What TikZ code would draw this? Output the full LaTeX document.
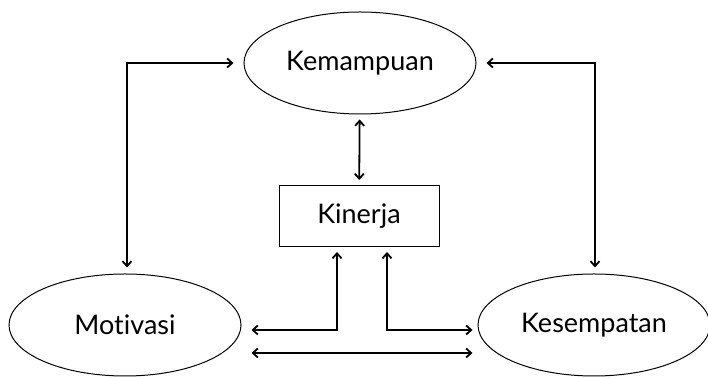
\documentclass[tikz,border=0pt]{standalone}
\usepackage{fontspec}
\setmainfont{Lato}[Ligatures={NoCommon,NoRequired,NoContextual}]
\usetikzlibrary{shapes.geometric,arrows.meta}

\begin{document}
\begin{tikzpicture}[x=0.5pt, y=-0.5pt,
	faktor/.style={ellipse, draw, line width=0.5pt, minimum width=116pt, minimum height=51pt, font=\fontsize{13.5}{16}\selectfont},
	hasil/.style={rectangle, draw, line width=0.5pt, minimum width=80pt, minimum height=30.5pt, font=\fontsize{13.5}{16}\selectfont},
	panah/.style={line width=0.9pt, {Straight Barb[length=2.5pt,width=4.5pt]}-{Straight Barb[length=2.5pt,width=4.5pt]}}]
	\useasboundingbox (0,0) rectangle (708,378);
	% Nodes:
	\node[faktor] (kemampuan) at (360, 63){Kemampuan};
	\node[hasil] (kinerja) at (359, 216){Kinerja};
	\node[faktor] (motivasi) at (125, 325){Motivasi};
	\node[faktor] (kesempatan) at (594, 325){Kesempatan};
	% Free ends of the bottom links:
	\coordinate (motkanan) at ([shift={(5pt,-2.5pt)}]motivasi.east);
	\coordinate (kesskiri) at ([shift={(-2.5pt,-2.5pt)}]kesempatan.west);
	\coordinate (motbawah) at ([shift={(5pt,-14pt)}]motivasi.east);
	\coordinate (kesbawah) at ([shift={(-2.5pt,-14pt)}]kesempatan.west);
	% Connectors:
	\draw[panah, shorten <=5pt, shorten >=3pt] (kemampuan.west) -| ([xshift=1pt]motivasi.north);
	\draw[panah, shorten <=5pt, shorten >=3pt] (kemampuan.east) -| ([xshift=0.5pt]kesempatan.north);
	\draw[panah, shorten <=2.5pt, shorten >=2.5pt] (kemampuan) -- (kinerja);
	\draw[panah, shorten >=2.5pt] (motkanan) -| ([xshift=-11pt]kinerja.south);
	\draw[panah, shorten <=2.5pt] ([xshift=14pt]kinerja.south) |- (kesskiri);
	\draw[panah] (motbawah) -- (kesbawah);
\end{tikzpicture}
\end{document}
